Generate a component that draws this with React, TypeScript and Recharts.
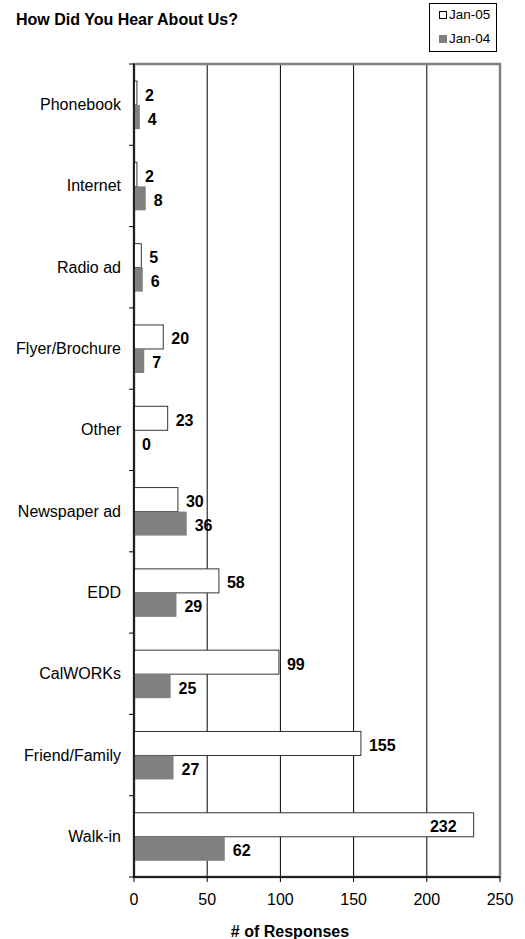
import React from "react";
import {
  BarChart,
  Bar,
  XAxis,
  YAxis,
  CartesianGrid,
  ReferenceArea,
} from "recharts";

// Survey responses by referral source
const categories = [
  "Phonebook",
  "Internet",
  "Radio ad",
  "Flyer/Brochure",
  "Other",
  "Newspaper ad",
  "EDD",
  "CalWORKs",
  "Friend/Family",
  "Walk-in",
];
const jan05 = [2, 2, 5, 20, 23, 30, 58, 99, 155, 232];
const jan04 = [4, 8, 6, 7, 0, 36, 29, 25, 27, 62];
const xTicks = [0, 50, 100, 150, 200, 250];
const seriesNames = ["Jan-05", "Jan-04"];

const data = categories.map((name, i) => ({
  name,
  jan05: jan05[i],
  jan04: jan04[i],
}));

const FONT = '"Liberation Sans", Arial, sans-serif';
const FS = 16;
const W = 525;
const H = 939;
const MARGIN = { top: 64, right: 25, bottom: 0, left: 0 };
const X_AXIS_H = 62;
const Y_AXIS_W = 134;
const X_MAX = xTicks[xTicks.length - 1];
const BAND = (H - MARGIN.top - MARGIN.bottom - X_AXIS_H) / categories.length;

const CategoryTick = (props: any) => {
  const { x, y, payload, index } = props;
  const axisX = x + 13;
  return (
    <g>
      <text
        x={x}
        y={y}
        textAnchor="end"
        dominantBaseline="central"
        fontFamily={FONT}
        fontSize={FS}
        fill="#000"
      >
        {payload.value}
      </text>
      <line x1={axisX - 5} x2={axisX} y1={y - BAND / 2} y2={y - BAND / 2} stroke="#000" />
      {index === categories.length - 1 && (
        <line x1={axisX - 5} x2={axisX} y1={y + BAND / 2} y2={y + BAND / 2} stroke="#000" />
      )}
    </g>
  );
};

// Bar rectangle with its value printed beside it (inside for the longest bars)
const makeBarShape = (fill: string, stroke: string | null) => (props: any) => {
  const { x, y, width, height, value } = props;
  const v = Array.isArray(value) ? value[1] - value[0] : value;
  const inside = v / X_MAX > 0.85;
  return (
    <g>
      {width > 0 && (
        <rect
          x={x}
          y={y}
          width={width}
          height={height}
          fill={fill}
          stroke={stroke ?? "none"}
          strokeWidth={1}
        />
      )}
      <text
        x={inside ? x + width - 17 : x + width + 8}
        y={y + height / 2 + 2}
        textAnchor={inside ? "end" : "start"}
        dominantBaseline="central"
        fontFamily={FONT}
        fontWeight="bold"
        fontSize={FS}
        fill="#000"
      >
        {v}
      </text>
    </g>
  );
};

const AxisTitle = (props: any) => {
  const vb = props.viewBox;
  return (
    <text
      x={vb.x + vb.width / 2 - 27}
      y={vb.y + 54}
      dominantBaseline="central"
      textAnchor="middle"
      fontFamily={FONT}
      fontWeight="bold"
      fontSize={FS}
      fill="#000"
    >
      # of Responses
    </text>
  );
};

export default function App() {
  return (
    <div style={{ position: "absolute", left: 0, top: 0, width: W, height: H, background: "#fff" }}>
      <div
        style={{
          position: "absolute",
          left: 16,
          top: 11,
          fontFamily: FONT,
          fontWeight: "bold",
          fontSize: FS,
          lineHeight: "18px",
          whiteSpace: "nowrap",
        }}
      >
        How Did You Hear About Us?
      </div>
      <div
        style={{
          position: "absolute",
          left: 429,
          top: 3,
          width: 68,
          height: 49,
          border: "1px solid #000",
          boxSizing: "border-box",
          fontFamily: FONT,
          fontSize: 13.5,
          zIndex: 2,
          background: "#fff",
        }}
      >
        {seriesNames.map((n, i) => (
          <div
            key={n}
            style={{
              position: "absolute",
              left: 9,
              top: i === 0 ? 3 : 27,
              display: "flex",
              alignItems: "center",
              lineHeight: "16px",
              whiteSpace: "nowrap",
            }}
          >
            <span
              style={{
                display: "inline-block",
                width: 8,
                height: 8,
                boxSizing: "border-box",
                border: i === 0 ? "1px solid #000" : "none",
                background: i === 0 ? "#fff" : "#808080",
                marginRight: 2,
              }}
            />
            {n}
          </div>
        ))}
      </div>
      <BarChart
        width={W}
        height={H}
        data={data}
        layout="vertical"
        margin={MARGIN}
        barCategoryGap="21%"
        barGap={0}
      >
        <CartesianGrid horizontal={false} stroke="#000" strokeWidth={1} />
        <ReferenceArea
          x1={0}
          x2={X_MAX}
          fill="none"
          stroke="#808080"
          strokeWidth={2.5}
          ifOverflow="visible"
        />
        <XAxis
          type="number"
          domain={[0, X_MAX]}
          ticks={xTicks}
          height={X_AXIS_H}
          axisLine={{ stroke: "#000", strokeWidth: 1.5 }}
          tickLine={{ stroke: "#000" }}
          tickSize={5}
          tickMargin={12}
          tick={{ fontFamily: FONT, fontSize: FS, fill: "#000" }}
          label={<AxisTitle />}
        />
        <YAxis
          type="category"
          dataKey="name"
          width={Y_AXIS_W}
          axisLine={{ stroke: "#000", strokeWidth: 1.5 }}
          tickLine={false}
          tickSize={0}
          tickMargin={13}
          interval={0}
          tick={<CategoryTick />}
        />
        <Bar
          dataKey="jan05"
          name={seriesNames[0]}
          fill="#fff"
          isAnimationActive={false}
          shape={makeBarShape("#fff", "#333")}
        />
        <Bar
          dataKey="jan04"
          name={seriesNames[1]}
          fill="#808080"
          isAnimationActive={false}
          shape={makeBarShape("#808080", null)}
        />
      </BarChart>
    </div>
  );
}
